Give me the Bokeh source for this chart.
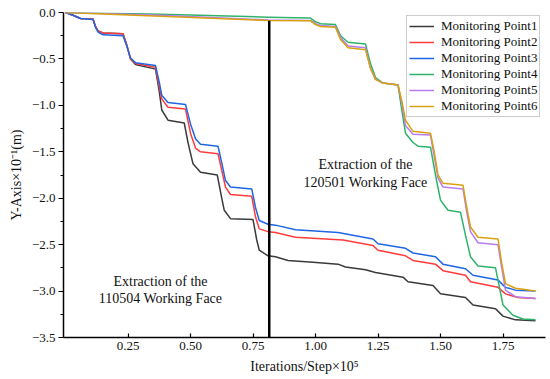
from bokeh.plotting import figure
from bokeh.models import (Range1d, FixedTicker, CustomJSTickFormatter, Legend, LegendItem)
from bokeh.core.properties import value
from bokeh.embed import file_html
from bokeh.resources import INLINE

# ---------------- data ----------------
x_p1 = [0, 0.03, 0.06, 0.11, 0.12, 0.13, 0.15, 0.23, 0.245, 0.26, 0.28, 0.36, 0.375, 0.385, 0.41, 0.475,
        0.49, 0.51, 0.54, 0.607, 0.625, 0.635, 0.66, 0.75, 0.765, 0.775, 0.81, 0.84, 0.89, 0.99, 1.09, 1.12,
        1.20, 1.24, 1.35, 1.37, 1.47, 1.50, 1.60, 1.63, 1.72, 1.75, 1.80, 1.88]
y_p1 = [0, -0.03, -0.065, -0.07, -0.15, -0.20, -0.22, -0.23, -0.35, -0.50, -0.56, -0.61, -0.85, -1.05, -1.16,
        -1.19, -1.40, -1.63, -1.72, -1.75, -2.0, -2.13, -2.22, -2.23, -2.45, -2.56, -2.62, -2.63, -2.67, -2.69,
        -2.71, -2.74, -2.77, -2.80, -2.85, -2.90, -2.94, -3.03, -3.07, -3.15, -3.19, -3.27, -3.31, -3.32]

x_p2 = [0, 0.03, 0.06, 0.11, 0.12, 0.13, 0.15, 0.23, 0.245, 0.26, 0.28, 0.36, 0.375, 0.385, 0.41, 0.48,
        0.50, 0.52, 0.54, 0.61, 0.625, 0.64, 0.66, 0.745, 0.76, 0.775, 0.81, 0.84, 0.92, 1.11, 1.23, 1.25,
        1.36, 1.39, 1.48, 1.51, 1.60, 1.62, 1.73, 1.76, 1.81, 1.88]
y_p2 = [0, -0.03, -0.065, -0.07, -0.15, -0.20, -0.22, -0.23, -0.35, -0.50, -0.55, -0.59, -0.80, -0.93, -1.02,
        -1.04, -1.30, -1.46, -1.50, -1.52, -1.70, -1.88, -1.96, -1.98, -2.20, -2.33, -2.36, -2.37, -2.42, -2.45,
        -2.51, -2.56, -2.62, -2.67, -2.71, -2.78, -2.83, -2.90, -2.96, -3.03, -3.07, -3.08]

x_p3 = [0, 0.03, 0.06, 0.11, 0.12, 0.13, 0.15, 0.23, 0.245, 0.26, 0.28, 0.36, 0.375, 0.385, 0.41, 0.48,
        0.50, 0.52, 0.54, 0.61, 0.625, 0.64, 0.66, 0.745, 0.76, 0.775, 0.81, 0.84, 0.92, 1.09, 1.23, 1.25,
        1.36, 1.39, 1.48, 1.51, 1.60, 1.63, 1.73, 1.76, 1.80, 1.88]
y_p3 = [0, -0.03, -0.065, -0.075, -0.16, -0.21, -0.24, -0.25, -0.36, -0.49, -0.54, -0.57, -0.75, -0.89, -0.97,
        -0.99, -1.20, -1.36, -1.42, -1.44, -1.62, -1.81, -1.88, -1.90, -2.10, -2.24, -2.28, -2.29, -2.34, -2.37,
        -2.44, -2.49, -2.54, -2.59, -2.63, -2.71, -2.76, -2.83, -2.88, -2.96, -2.99, -3.00]

x_p4 = [0, 0.38, 0.81, 0.98, 1.00, 1.02, 1.08, 1.10, 1.13, 1.20, 1.22, 1.24, 1.27, 1.33, 1.345, 1.36, 1.39,
        1.41, 1.46, 1.48, 1.50, 1.53, 1.58, 1.60, 1.62, 1.65, 1.72, 1.735, 1.75, 1.79, 1.83, 1.88]
y_p4 = [0, -0.02, -0.05, -0.06, -0.10, -0.12, -0.13, -0.25, -0.32, -0.34, -0.55, -0.70, -0.76, -0.78, -1.05,
        -1.30, -1.40, -1.44, -1.45, -1.75, -2.02, -2.13, -2.15, -2.40, -2.63, -2.73, -2.75, -2.95, -3.15, -3.26,
        -3.30, -3.31]

x_p5 = [0, 0.38, 0.81, 0.98, 1.00, 1.02, 1.08, 1.10, 1.13, 1.20, 1.22, 1.24, 1.27, 1.33, 1.345, 1.36, 1.39,
        1.46, 1.475, 1.49, 1.51, 1.59, 1.605, 1.62, 1.65, 1.73, 1.745, 1.76, 1.80, 1.88]
y_p5 = [0, -0.03, -0.08, -0.085, -0.12, -0.14, -0.15, -0.27, -0.36, -0.38, -0.60, -0.72, -0.76, -0.78, -0.98,
        -1.22, -1.31, -1.32, -1.55, -1.78, -1.88, -1.90, -2.15, -2.36, -2.48, -2.50, -2.75, -2.99, -3.06, -3.08]

x_p6 = [0, 0.38, 0.81, 0.98, 1.00, 1.02, 1.08, 1.10, 1.13, 1.20, 1.22, 1.24, 1.27, 1.33, 1.345, 1.36, 1.39,
        1.46, 1.475, 1.49, 1.51, 1.59, 1.605, 1.62, 1.65, 1.73, 1.745, 1.76, 1.80, 1.88]
y_p6 = [0, -0.04, -0.086, -0.09, -0.13, -0.15, -0.16, -0.29, -0.38, -0.40, -0.60, -0.72, -0.76, -0.78, -0.95,
        -1.16, -1.28, -1.30, -1.50, -1.75, -1.84, -1.86, -2.10, -2.31, -2.42, -2.44, -2.70, -2.92, -2.97, -3.00]

series_names = ["Monitoring Point1", "Monitoring Point2", "Monitoring Point3",
                "Monitoring Point4", "Monitoring Point5", "Monitoring Point6"]
series_colors = ["#3a3a3a", "#ff3b3b", "#1f66e5", "#2fb36a", "#b57cf0", "#d9a010"]

x_ticks = [0.25, 0.50, 0.75, 1.00, 1.25, 1.50, 1.75]
y_ticks = [-3.5, -3.0, -2.5, -2.0, -1.5, -1.0, -0.5, 0.0]
y_minor = [-3.25, -2.75, -2.25, -1.75, -1.25, -0.75, -0.25]

boundary_x = [0.815]
boundary_y0 = [-3.5]
boundary_y1 = [-0.09]

ann_x = [1.2, 1.2, 0.38, 0.38]
ann_y = [-1.636, -1.83, -2.90, -3.085]
ann_text = ["Extraction of the", "120501 Working Face", "Extraction of the", "110504 Working Face"]

FONT = "Liberation Serif"

p = figure(width=550, height=379, output_backend="svg", toolbar_location=None,
           x_range=Range1d(-0.008, 1.92), y_range=Range1d(-3.5, 0.0),
           min_border_left=63, min_border_right=5, min_border_top=12, min_border_bottom=42)
p.outline_line_color = None
p.xgrid.visible = False
p.ygrid.visible = False
p.background_fill_color = "white"

xs = [x_p1, x_p2, x_p3, x_p4, x_p5, x_p6]
ys = [y_p1, y_p2, y_p3, y_p4, y_p5, y_p6]
items = []
for xv, yv, name, col in zip(xs, ys, series_names, series_colors):
    r = p.line(xv, yv, line_color=col, line_width=1.5)
    items.append(LegendItem(label=name, renderers=[r]))

p.segment(x0=boundary_x, y0=boundary_y0, x1=boundary_x, y1=boundary_y1, line_color="black", line_width=2.5)

p.text(x=ann_x, y=ann_y, text=ann_text, text_font=value(FONT), text_font_size="14px",
       text_align="center", text_baseline="middle", text_color="#111111")

# axes
xa = p.xaxis[0]
xa.ticker = FixedTicker(ticks=x_ticks)
xa.formatter = CustomJSTickFormatter(code="return tick.toFixed(2);")
xa.axis_label = "Iterations/Step×10⁵"
xa.major_tick_in = 4
xa.major_tick_out = 0
xa.minor_tick_line_color = None
xa.major_label_standoff = 4
xa.axis_label_standoff = 6

ya = p.yaxis[0]
ya.ticker = FixedTicker(ticks=y_ticks, minor_ticks=y_minor)
ya.formatter = CustomJSTickFormatter(code="return tick.toFixed(1).replace('-', '\u2212');")
ya.axis_label = "Y-Axis×10⁻¹(m)"
ya.major_tick_in = 0
ya.major_tick_out = 5
ya.minor_tick_in = 0
ya.minor_tick_out = 3
ya.major_label_standoff = 3
ya.axis_label_standoff = 5

for ax in (xa, ya):
    ax.axis_line_width = 1.5
    ax.axis_line_color = "black"
    ax.major_tick_line_color = "black"
    ax.major_tick_line_width = 1.2
    ax.minor_tick_line_width = 1
    ax.major_label_text_font = FONT
    ax.major_label_text_font_size = "13px"
    ax.major_label_text_color = "#111111"
    ax.axis_label_text_font = FONT
    ax.axis_label_text_font_size = "14px"
    ax.axis_label_text_font_style = "normal"
    ax.axis_label_text_color = "#111111"

legend = Legend(items=items, location=(343, 220), label_text_font=FONT, label_text_font_size="13px",
                glyph_width=25, glyph_height=16, label_height=16, label_standoff=7, spacing=0,
                padding=2, margin=0, border_line_color="#999999", border_line_width=1,
                background_fill_alpha=1.0, label_text_color="#111111")
p.add_layout(legend)

open("out.html", "w").write(file_html(p, INLINE))
